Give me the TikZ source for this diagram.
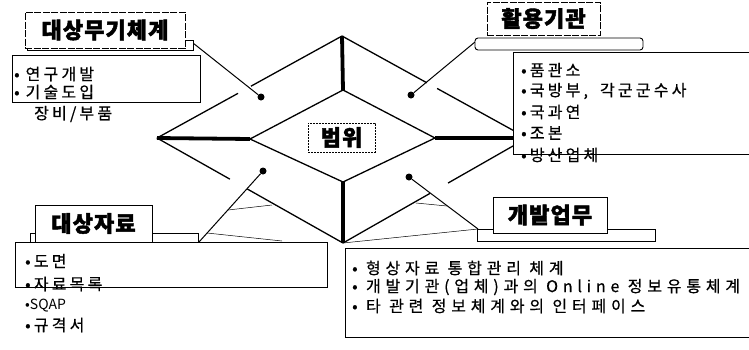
\documentclass[tikz,border=0pt]{standalone}
\usepackage{fontspec}
\usepackage{tikz}
\usetikzlibrary{calc}
\setmainfont{Noto Sans CJK KR}
\newfontfamily\krtitle[LetterSpace=5, BoldFeatures={FakeBold=2}]{Noto Sans CJK KR}
\newfontfamily\krlist[LetterSpace=20, FakeBold=0.6]{Noto Sans CJK KR}
\newfontfamily\krtask[LetterSpace=30, FakeBold=0.6]{Noto Sans CJK KR}
\tikzset{dot/.style = {fill, circle, inner sep = 0, minimum size = 7}}
\tikzset{edge/.style = {line width = 1.3}}
\tikzset{ridge/.style = {line width = 3.8}}
\tikzset{pin/.style = {line width = 1}}
\tikzset{fan/.style = {line width = 0.5}}
\tikzset{titlebox/.style = {draw, fill = white, line width = 1, inner sep = 0, font = \krtitle\bfseries\fontsize{22}{26}\selectfont}}
\tikzset{shadowbox/.style = {draw, fill = white, line width = 0.9}}
\tikzset{listbox/.style = {draw, fill = white, line width = 0.9}}
\tikzset{item/.style = {anchor = west, inner sep = 0, font = \krlist\fontsize{16}{18}\selectfont}}
\tikzset{task/.style = {anchor = west, inner sep = 0, font = \krtask\fontsize{16}{18}\selectfont}}

\begin{document}
\begin{tikzpicture}[x=1pt, y=-1pt]
    \clip (0, 0) rectangle (749, 349);

    \coordinate (ol) at (157, 138);
    \coordinate (ot) at (342, 36);
    \coordinate (or) at (527, 138);
    \coordinate (ob) at (343, 243);
    \coordinate (il) at (250, 139);
    \coordinate (it) at (343, 90);
    \coordinate (ir) at (435, 138);
    \coordinate (ib) at (343, 182);

    % outer edges, broken where the pins pass
    \draw [edge] (ol) -- ($(ol)!0.438!(ot)$) ($(ol)!0.508!(ot)$) -- (ot);
    \draw [edge] (ot) -- ($(ot)!0.459!(or)$) ($(ot)!0.514!(or)$) -- (or);
    \draw [edge] (or) -- ($(or)!0.429!(ob)$) ($(or)!0.527!(ob)$) -- (ob);
    \draw [edge] (ol) -- ($(ol)!0.392!(ob)$) ($(ol)!0.484!(ob)$) -- (ob);
    \draw [edge] (il) -- (it) -- (ir) -- (ib) -- cycle;

    \draw [ridge] (ol) -- (il);
    \draw [ridge] (ir) -- (or);
    \draw [ridge] (ot) -- (it);
    \draw [ridge] (ib) -- (ob);

    \node [dot] (d1) at (261, 97) {};
    \node [dot] (d2) at (411, 95) {};
    \node [dot] (d3) at (263, 171) {};
    \node [dot] (d4) at (409, 177) {};

    \coordinate (c1) at (193, 43);
    \coordinate (c2) at (475, 42);
    \coordinate (c3) at (199, 242);
    \coordinate (c4) at (478, 229);

    \draw [pin] (c1) -- (d1);
    \draw [pin] (c2) -- (d2);
    \draw [pin] (c3) -- (d3);
    \draw [pin] (c4) -- (d4);

    \coordinate (f1) at (228, 210);
    \coordinate (f2) at (272, 205);
    \coordinate (f3) at (207, 233);
    \coordinate (f4) at (282, 241);
    \coordinate (f5) at (416, 203);
    \coordinate (f6) at (447, 206);
    \draw [fan] (f1) -- (f2);
    \draw [fan] (f3) -- (f4);
    \draw [fan] (f5) -- (f6);
    \draw [fan] (ob) -- (c4);

    % lists
    \draw [listbox] (12, 55) rectangle (200, 102);
    \node [item] (s1) at (14, 74) {•\hspace{6pt}연구개발};
    \node [item] (s2) at (14, 92) {•\hspace{6pt}기술도입};
    \node [item] (s3) at (34, 114) {장비/부품};

    \draw [listbox] (513, 52) rectangle (760, 154);
    \node [item] (u1) at (521, 70) {•품관소};
    \node [item] (u2) at (521, 91) {•국방부,\hspace{12pt}각군군수사};
    \node [item] (u3) at (521, 112) {•국과연};
    \node [item] (u4) at (521, 133) {•조본};
    \node [item] (u5) at (521, 155) {•방산업체};

    \draw [listbox] (15, 242) rectangle (327, 287);
    \node [item] (m1) at (25, 261) {•도면};
    \node [item] (m2) at (25, 284) {•자료목록};
    \node [anchor = west, inner sep = 0, font = \fontsize{14}{16}\selectfont] (m3) at (25, 306) {•SQAP};
    \node [item] (m4) at (25, 325) {•규격서};

    \draw [listbox] (345, 248) rectangle (760, 337);
    \node [task] (t1) at (352, 268) {• 형상자료 통합관리 체계};
    \node [task] (t2) at (352, 287) {• 개발기관(업체)과의 Online 정보유통체계};
    \node [task] (t3) at (352, 306) {• 타 관련 정보체계와의 인터페이스};

    % titles
    \draw [shadowbox] (27, 40) rectangle (193, 50);
    \node [titlebox, dash pattern = on 7pt off 1.5pt, minimum width = 160, minimum height = 36] (sys) at (105, 30) {대상무기체계};

    \draw [shadowbox, rounded corners = 3] (475, 38) rectangle (643, 50);
    \node [titlebox, dash pattern = on 7pt off 1.5pt, minimum width = 113, minimum height = 33] (use) at (543.5, 18.5) {활용기관};

    \draw [shadowbox] (30, 233) rectangle (198, 242);
    \node [titlebox, minimum width = 117, minimum height = 37] (data) at (93.5, 223.5) {대상자료};

    \draw [shadowbox] (477, 229) rectangle (655, 241);
    \node [titlebox, minimum width = 114, minimum height = 36] (dev) at (550, 215) {개발업무};

    \node [titlebox, dash pattern = on 2pt off 1pt, line width = 0.6, minimum width = 67, minimum height = 29] (scope) at (341.5, 137.5) {범위};
\end{tikzpicture}
\end{document}
